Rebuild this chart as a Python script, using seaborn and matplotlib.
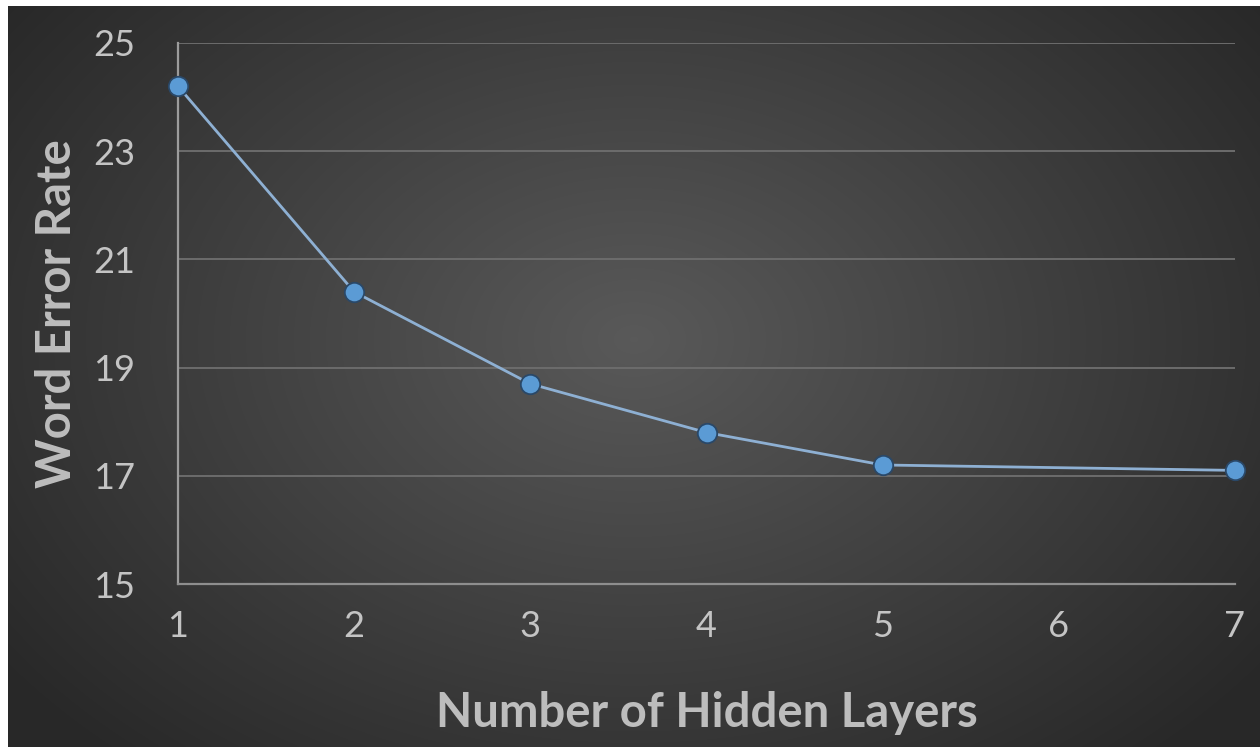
import numpy as np
import pandas as pd
import matplotlib
matplotlib.use("Agg")
import matplotlib.pyplot as plt
import seaborn as sns

# Word error rate against network depth
hidden_layers = [1, 2, 3, 4, 5, 7]
word_error_rate = [24.2, 20.4, 18.7, 17.8, 17.2, 17.1]
x_ticks = [1, 2, 3, 4, 5, 6, 7]
y_ticks = [15, 17, 19, 21, 23, 25]

df = pd.DataFrame({"layers": hidden_layers, "wer": word_error_rate})

sns.set_theme(style="dark")
plt.rcParams["font.family"] = ["Lato", "DejaVu Sans"]

W, H = 1260, 747
fig = plt.figure(figsize=(W / 100, H / 100), dpi=100)
fig.patch.set_facecolor("white")

# Dark radial-gradient backdrop with a thin white margin on the left/top
bg = fig.add_axes([8 / W, 0, 1 - 8 / W, 1 - 6 / H], zorder=-10)
yy, xx = np.mgrid[0:1:400j, 0:1:700j]
r = np.sqrt(((xx - 0.5) / 0.62) ** 2 + ((yy - 0.45) / 0.75) ** 2)
shade = np.clip(0.35 - 0.19 * r, 0.16, 0.36)
bg.imshow(np.dstack([shade, shade, shade]), aspect="auto", extent=[0, 1, 0, 1],
          interpolation="bilinear")
bg.set_axis_off()

ax = fig.add_axes([178 / W, 1 - 584 / H, (1235 - 178) / W, (584 - 43) / H])
ax.set_facecolor("none")

sns.lineplot(data=df, x="layers", y="wer", ax=ax, color="#8eb0d3", linewidth=2.0,
             marker="o", markersize=14, markerfacecolor="#5b9bd5",
             markeredgecolor="#2a4868", markeredgewidth=1.3, clip_on=False, zorder=5)

ax.set_xlim(1, 7)
ax.set_ylim(15, 25)
ax.set_xticks(x_ticks)
ax.set_yticks(y_ticks)
ax.set_xticklabels([str(t) for t in x_ticks])
ax.set_yticklabels([str(t) for t in y_ticks])

ax.grid(axis="y", color="#6c6c6c", linewidth=1.4)
ax.grid(axis="x", visible=False)
for side in ["top", "right"]:
    ax.spines[side].set_visible(False)
ax.spines["left"].set_color("#9c9c9c")
ax.spines["left"].set_linewidth(1.6)
ax.spines["bottom"].set_color("#8e8e8e")
ax.spines["bottom"].set_linewidth(1.6)

ax.tick_params(axis="both", length=0, labelcolor="#c4c4c4", labelsize=26)
ax.tick_params(axis="y", pad=31)
ax.tick_params(axis="x", pad=19)

ax.set_xlabel("Number of Hidden Layers", fontsize=34, fontweight="bold",
              color="#bdbdbd", labelpad=34)
ax.set_ylabel("Word Error Rate", fontsize=34, fontweight="bold",
              color="#bdbdbd", labelpad=10)

fig.savefig("out.png", dpi=100, facecolor=fig.get_facecolor())
